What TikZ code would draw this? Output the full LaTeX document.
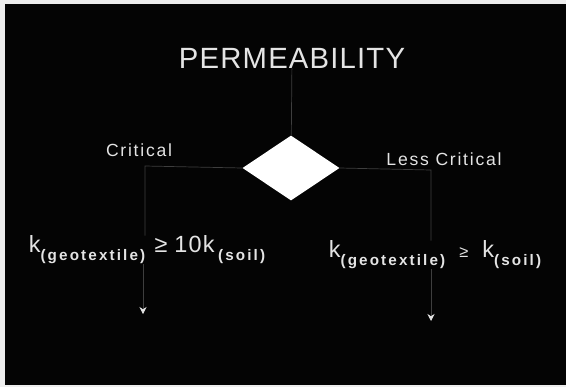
\documentclass[tikz,border=0pt]{standalone}
\usepackage{fontspec}
\setmainfont{Liberation Sans}
\usetikzlibrary{shapes.geometric, arrows.meta, positioning, calc}
\definecolor{cSlide}{RGB}{4, 4, 4}
\definecolor{cText}{RGB}{228, 228, 228}
\definecolor{cLine}{RGB}{62, 62, 62}
\definecolor{cPage}{RGB}{238, 238, 238}
% subscript part of a formula
\newcommand{\permsub}[1]{\raisebox{-7pt}{\fontsize{13}{13}\selectfont\bfseries\addfontfeatures{LetterSpace=14}#1}}

\begin{document}
\begin{tikzpicture}[
    x=0.03cm, y=-0.03cm,
    >=Stealth,
    caption/.style={
        text=cText,
        inner sep=0pt,
        font=\fontsize{15}{15}\selectfont\addfontfeatures{LetterSpace=10}
    },
    formula/.style={
        text=cText,
        inner sep=0pt,
        font=\fontsize{20}{20}\selectfont\addfontfeatures{LetterSpace=5}
    },
    link/.style={draw=cLine, line width=0.6pt},
    arrow/.style={-{Stealth[length=6pt, width=6pt, color=cText]}, draw=cLine, line width=0.6pt}
]

\useasboundingbox[fill=cPage] (0, 0) rectangle (566, 387);
\fill[cSlide] (5, 4) rectangle (566, 385);

\node[text=cText, inner sep=0pt, font=\fontsize{25}{25}\selectfont\addfontfeatures{LetterSpace=4}] (title) at (292, 58) {PERMEABILITY};

% Decision
\node[diamond, fill=white, inner sep=0pt, aspect=1.49, minimum width=2.91cm, minimum height=1.95cm] (dia) at (291, 168) {};
\draw[link] (title) -- (dia);

% Critical branch
\node[caption] (crit) at (139, 150) {Critical};
\coordinate (cornerL) at (145, 166);
\node[formula] (formL) at (147, 250) {k\permsub{(geotextile)}\hspace{8pt}≥\hspace{6pt}10k\hspace{3pt}\permsub{(soil)}};
\coordinate (endL) at (143, 314);

% Less critical branch
\node[caption] (lcrit) at (444, 159) {Less Critical};
\coordinate (cornerR) at (431, 170);
\node[formula] (formR) at (435, 255) {k\permsub{(geotextile)}\hspace{12pt}{\fontsize{14}{14}\selectfont ≥}\hspace{12pt}k\permsub{(soil)}};
\coordinate (endR) at (431, 321);

\draw[link] (dia.west) -- (cornerL) -- (cornerL |- formL.north);
\draw[link] (dia.east) -- (cornerR) -- (cornerR |- formR.north);
\draw[arrow] (endL |- formL.south) -- (endL);
\draw[arrow] (endR |- formR.south) -- (endR);

\end{tikzpicture}
\end{document}
